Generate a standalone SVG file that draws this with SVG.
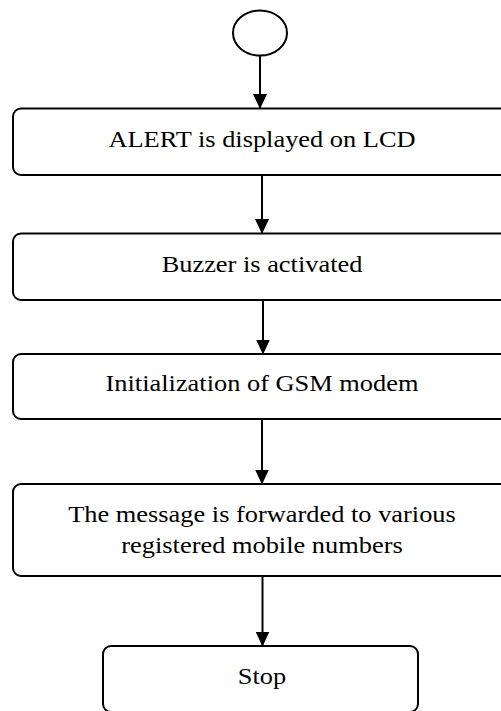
<svg xmlns="http://www.w3.org/2000/svg" width="501" height="711" viewBox="0 0 501 711">
  <style>
    .box { fill: #ffffff; stroke: #000000; stroke-width: 2; }
    .start { fill: #ffffff; stroke: #000000; stroke-width: 2; }
    .link { stroke: #000000; stroke-width: 2; fill: none; marker-end: url(#head); }
    .label { font-family: "Liberation Serif", "Times New Roman", serif; font-size: 22.6px; fill: #000000; text-anchor: middle; }
  </style>
  <defs>
    <!-- filled arrowhead, pointing along the line; tip sits at the line end -->
    <marker id="head" markerUnits="userSpaceOnUse" markerWidth="15" markerHeight="14" viewBox="0 0 15 14" refX="15" refY="7" orient="auto">
      <path d="M0,0 L15,7 L0,14 Z" fill="#000000"/>
    </marker>
  </defs>
  <rect width="501" height="711" fill="#ffffff"/>

  <g id="start">
    <ellipse class="start" cx="260" cy="33" rx="27" ry="22.5"/>
  </g>

  <g id="alert">
    <rect class="box" x="13" y="108.5" width="498" height="66.5" rx="8" ry="8"/>
    <text class="label" transform="translate(262 147) scale(1.168 1)">ALERT is displayed on LCD</text>
  </g>

  <g id="buzzer">
    <rect class="box" x="13" y="233.5" width="498" height="66.5" rx="8" ry="8"/>
    <text class="label" transform="translate(262 271.5) scale(1.168 1)">Buzzer is activated</text>
  </g>

  <g id="gsm-init">
    <rect class="box" x="13" y="354" width="498" height="65" rx="8" ry="8"/>
    <text class="label" transform="translate(262 390.7) scale(1.168 1)">Initialization of GSM modem</text>
  </g>

  <g id="forward">
    <rect class="box" x="13" y="484" width="498" height="92" rx="8" ry="8"/>
    <text class="label" transform="translate(262 521.7) scale(1.168 1)">The message is forwarded to various</text>
    <text class="label" transform="translate(262 553) scale(1.168 1)">registered mobile numbers</text>
  </g>

  <g id="stop">
    <rect class="box" x="103" y="646" width="315" height="66" rx="8" ry="8"/>
    <text class="label" transform="translate(262 684) scale(1.168 1)">Stop</text>
  </g>

  <g id="connectors">
    <line class="link" x1="260" y1="55" x2="260" y2="109"/>
    <line class="link" x1="262" y1="175" x2="262" y2="234"/>
    <line class="link" x1="263" y1="300" x2="263" y2="354.5"/>
    <line class="link" x1="262" y1="419" x2="262" y2="484.5"/>
    <line class="link" x1="262.5" y1="576" x2="262.5" y2="646.5"/>
  </g>
</svg>
